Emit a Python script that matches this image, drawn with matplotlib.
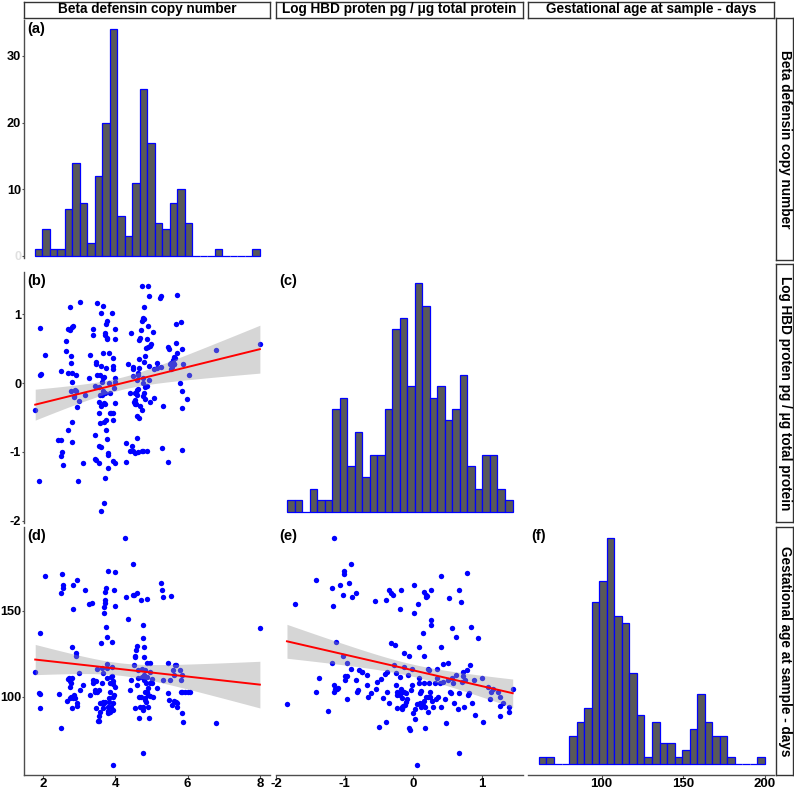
import numpy as np
import matplotlib
matplotlib.use("Agg")
import matplotlib.pyplot as plt

plt.rcParams['font.family'] = ['Liberation Sans', 'DejaVu Sans']
plt.rcParams['font.weight'] = 'bold'
plt.rcParams['axes.unicode_minus'] = False

# ---------------- data ----------------
var_names = ["Beta defensin copy number",
             "Log HBD proten pg / \u03bcg total protein",
             "Gestational age at sample - days"]
panel_tags = ["(a)", "(b)", "(c)", "(d)", "(e)", "(f)"]

hist_a_counts = [1, 4, 1, 1, 7, 14, 8, 2, 12, 20, 34, 6, 3, 11, 25, 17, 5, 4, 8, 10,
                 5, 0, 0, 0, 1, 0, 0, 0, 0, 1]
hist_a_range = (1.78, 7.99)
hist_c_counts = [1, 1, 0, 2, 1, 1, 9, 10, 4, 7, 3, 5, 5, 9, 16, 17, 11, 20, 18, 10,
                 11, 8, 9, 12, 4, 2, 5, 5, 2, 1]
hist_c_range = (-1.835, 1.447)
hist_f_counts = [1, 1, 0, 0, 4, 6, 8, 23, 26, 32, 21, 20, 13, 7, 1, 6, 3, 3, 1, 2,
                 5, 10, 6, 4, 4, 1, 0, 0, 0, 1]
hist_f_range = (61.7, 200.0)

# (b) copy number vs log HBD
b_points = [
    (1.79, -0.39), (1.89, -1.42), (1.91, 0.80), (1.91, 0.11), (1.94, 0.13), (2.06, 0.40),
    (2.42, -0.83), (2.50, -0.83), (2.51, 0.17), (2.51, -1.06), (2.54, -1.00), (2.57, -1.19),
    (2.63, 0.47), (2.63, 0.61), (2.71, 0.79), (2.74, 1.10), (2.75, 0.77), (2.78, 0.39),
    (2.80, 0.81), (2.83, 0.82), (2.77, 0.29), (2.71, 0.14), (2.80, 0.15), (2.82, 0.02),
    (2.85, -0.19), (2.87, -0.20), (2.92, 0.11), (2.93, -0.12), (2.94, -0.35), (2.99, -0.26),
    (3.03, 1.17), (2.96, -1.42), (2.71, -0.68), (2.80, -0.56), (2.82, -0.85), (2.79, -0.12),
    (2.89, -0.10),
    (3.11, -1.16), (3.17, -0.18), (3.29, 0.08), (3.31, 0.40),
    (3.40, 0.79), (3.40, 0.70), (3.44, -0.05), (3.47, 0.31), (3.48, 0.28), (3.49, 0.11),
    (3.51, 1.16), (3.55, -0.06), (3.58, 0.11), (3.61, 1.01), (3.65, 1.12), (3.63, -0.17),
    (3.58, -0.18), (3.55, -0.43), (3.61, -0.34), (3.60, -0.93), (3.55, -0.28), (3.45, -0.75),
    (3.45, -1.10), (3.47, -1.12), (3.55, -0.91), (3.56, -1.16), (3.58, -0.58),
    (3.62, 0.25), (3.64, 0.01), (3.65, -0.12), (3.66, 0.43), (3.67, 0.07), (3.68, -0.29),
    (3.69, -0.57), (3.69, 0.09), (3.71, 0.69), (3.72, -0.30), (3.73, -0.15), (3.73, 0.72),
    (3.75, 0.22), (3.75, 0.86), (3.77, 0.90), (3.77, 0.66), (3.77, 0.64), (3.79, -1.02),
    (3.77, -0.81), (3.75, -0.68), (3.75, -0.53), (3.73, -1.38), (3.70, -1.74), (3.79, -1.23),
    (3.79, -1.05), (3.82, 0.00), (3.83, 0.44), (3.86, -0.14), (3.86, -0.43), (3.89, -0.44),
    (3.90, 1.01), (3.93, -0.43), (3.93, -0.54), (3.95, 0.36), (3.95, 0.25), (3.95, 0.21),
    (3.97, -0.07), (3.99, 0.07), (4.00, 0.78), (4.00, 0.01), (3.99, 0.64), (4.00, -0.29),
    (3.95, -1.13), (4.00, -1.16), (3.60, -1.85),
    (4.29, -1.14), (4.30, -0.87), (4.36, 0.27), (4.41, -0.14), (4.43, 0.72), (4.48, 0.20),
    (4.50, 0.23), (4.50, 0.10), (4.52, -0.27), (4.54, -0.30), (4.54, -0.14), (4.56, -0.24),
    (4.56, -0.29), (4.58, -0.30), (4.58, -0.15), (4.59, -0.10), (4.60, -0.18), (4.61, 0.05),
    (4.62, -0.09), (4.63, 0.11), (4.63, 0.15), (4.65, 0.22), (4.67, 0.35), (4.67, 0.63),
    (4.69, 0.65), (4.71, 0.77), (4.74, 1.40), (4.74, 0.90), (4.76, 0.00), (4.76, -0.19),
    (4.78, 0.94), (4.78, 0.07), (4.80, 1.10), (4.80, 0.93), (4.81, 0.31), (4.83, 0.39),
    (4.83, -0.06), (4.85, 0.51), (4.87, -0.05), (4.87, 0.64), (4.90, 0.83), (4.90, 1.41),
    (4.91, 0.52), (4.93, 0.05), (4.93, 0.24), (4.94, 1.26), (4.96, 0.53), (4.95, -0.27),
    (4.98, 0.56), (5.04, 0.74), (5.06, 0.21), (5.07, -0.22), (4.60, -0.48), (4.64, -1.00),
    (4.61, -0.80), (4.56, -1.02), (4.48, -0.98), (4.41, -0.99), (4.46, -0.92), (4.65, -0.51),
    (4.73, -0.98), (4.76, -0.98), (4.87, -0.98), (4.74, -0.39), (4.70, -0.33), (4.79, -0.14),
    (4.83, -0.23),
    (5.15, 0.22), (5.17, 0.29), (5.28, 0.23), (5.24, 1.24), (5.28, 1.26), (5.31, -0.34),
    (5.46, -1.15), (5.29, -0.94), (5.47, 0.52), (5.50, 0.49), (5.52, 0.27), (5.54, 0.29),
    (5.55, 0.21), (5.58, 0.23), (5.61, 0.33), (5.62, 0.38), (5.63, 0.28), (5.64, 0.28),
    (5.66, 0.36), (5.68, 0.58), (5.68, 0.85), (5.70, 1.28), (5.71, 0.43), (5.79, 0.00),
    (5.83, 0.89), (5.85, -0.11), (5.86, 0.49), (5.88, 0.28), (5.86, -0.36), (5.84, -0.97),
    (5.98, -0.23), (6.05, 0.12),
    (6.80, 0.48), (8.00, 0.57),
]

# (d) copy number vs gestational age
d_points = [
    (1.79, 114.5), (1.93, 136.8), (1.90, 102.3), (1.91, 101.6), (1.91, 93.6), (2.06, 170.2),
    (2.44, 101.7), (2.51, 81.6), (2.51, 160.1), (2.53, 171.1), (2.57, 163.0), (2.55, 164.9),
    (2.66, 97.7), (2.71, 110.1), (2.73, 110.7), (2.75, 109.3), (2.77, 107.8), (2.80, 110.7),
    (2.74, 105.8), (2.75, 99.0), (2.78, 100.0), (2.80, 129.1), (2.83, 150.8), (2.83, 164.9),
    (2.80, 93.6), (2.83, 99.0), (2.87, 100.8), (2.90, 99.0), (2.92, 125.2), (2.92, 123.8),
    (2.94, 167.8), (2.94, 94.6), (2.94, 96.5), (2.99, 114.0), (3.03, 103.9), (3.10, 106.8),
    (3.17, 162.0), (3.29, 153.7), (3.31, 101.0), (3.36, 154.7),
    (3.38, 109.7), (3.40, 107.8), (3.44, 103.9), (3.44, 102.9), (3.47, 109.1), (3.47, 93.6),
    (3.49, 102.9), (3.51, 115.9), (3.52, 85.7), (3.54, 85.9), (3.56, 88.8), (3.56, 103.9),
    (3.58, 91.3), (3.58, 96.1), (3.61, 131.0), (3.63, 116.5), (3.64, 107.8), (3.66, 113.6),
    (3.66, 97.1), (3.67, 95.5), (3.67, 93.2), (3.69, 148.8), (3.70, 152.3), (3.72, 154.3),
    (3.72, 156.2), (3.73, 161.0), (3.75, 163.0), (3.75, 140.7), (3.77, 134.9), (3.77, 118.8),
    (3.77, 116.5), (3.77, 110.7), (3.79, 173.1), (3.79, 90.3), (3.81, 91.9), (3.81, 94.2),
    (3.82, 97.1), (3.84, 99.0), (3.86, 102.9), (3.86, 107.8), (3.88, 111.6), (3.90, 117.4),
    (3.90, 132.0), (3.91, 112.0), (3.93, 109.1), (3.93, 107.2), (3.95, 92.2), (3.95, 100.0),
    (3.97, 101.0), (3.98, 162.0), (3.99, 172.3), (3.99, 152.9), (4.00, 105.8), (3.95, 60.3),
    (3.86, 91.3), (3.72, 97.1), (3.88, 94.2), (3.93, 96.1),
    (4.28, 192.1), (4.30, 157.8), (4.35, 145.0), (4.41, 103.9), (4.43, 109.7), (4.48, 177.1),
    (4.50, 159.1), (4.52, 159.1), (4.52, 118.4), (4.54, 123.3), (4.55, 93.2), (4.56, 123.8),
    (4.58, 127.1), (4.60, 106.8), (4.61, 160.1), (4.61, 129.5), (4.62, 110.7), (4.63, 115.5),
    (4.65, 87.4), (4.67, 100.0), (4.69, 94.2), (4.71, 156.2), (4.72, 99.6), (4.73, 111.6),
    (4.74, 115.9), (4.76, 94.2), (4.76, 92.2), (4.78, 141.7), (4.78, 133.9), (4.79, 129.1),
    (4.80, 123.3), (4.80, 112.6), (4.80, 109.7), (4.82, 102.9), (4.82, 98.1), (4.83, 99.0),
    (4.83, 115.5), (4.85, 107.8), (4.86, 97.1), (4.87, 102.9), (4.87, 111.6), (4.88, 119.4),
    (4.89, 156.6), (4.90, 94.2), (4.91, 101.0), (4.92, 104.8), (4.93, 87.4), (4.95, 114.5),
    (4.95, 107.8), (4.95, 119.4), (4.96, 100.6), (5.01, 107.8), (5.04, 100.0), (5.01, 110.1),
    (4.76, 67.4),
    (5.15, 104.8), (5.28, 166.3), (5.30, 162.0), (5.31, 157.8), (5.33, 109.7), (5.47, 119.8),
    (5.47, 102.3), (5.48, 98.1), (5.52, 109.7), (5.53, 158.7), (5.56, 95.2), (5.61, 115.5),
    (5.63, 97.7), (5.64, 112.6), (5.66, 118.4), (5.68, 118.4), (5.68, 97.1), (5.70, 94.2),
    (5.72, 96.1), (5.79, 115.5), (5.81, 109.7), (5.82, 102.9), (5.84, 90.3), (5.86, 112.6),
    (5.88, 85.5), (5.86, 102.9), (5.93, 102.9), (6.00, 102.9), (6.07, 102.9),
    (6.80, 84.5), (8.00, 139.7),
]

# (e) log HBD vs gestational age
e_points = [
    (-1.84, 95.7), (-1.73, 153.9), (-1.42, 168.0), (-1.42, 102.7), (-1.37, 110.7), (-1.24, 91.7),
    (-1.19, 163.0), (-1.17, 152.9), (-1.18, 119.8), (-1.16, 106.8), (-1.15, 102.7), (-1.15, 192.2),
    (-1.14, 104.5), (-1.13, 132.0), (-1.11, 104.3), (-1.09, 104.8), (-1.06, 164.9), (-1.03, 159.1),
    (-1.03, 123.8), (-1.01, 173.3), (-1.01, 171.3), (-1.00, 109.7), (-0.99, 112.0), (-0.97, 112.0),
    (-0.96, 119.8), (-0.96, 98.4), (-0.94, 166.3), (-0.91, 177.1), (-0.89, 157.8), (-0.90, 115.9),
    (-0.84, 160.1), (-0.84, 109.7), (-0.82, 102.5), (-0.80, 103.9), (-0.79, 115.5), (-0.75, 114.5),
    (-0.74, 114.5), (-0.67, 112.6), (-0.67, 106.8), (-0.66, 99.6), (-0.62, 102.3), (-0.55, 155.4),
    (-0.54, 104.7), (-0.53, 108.7), (-0.50, 82.6), (-0.47, 110.1), (-0.44, 99.0), (-0.41, 113.2),
    (-0.40, 156.2), (-0.40, 85.5), (-0.38, 102.9), (-0.38, 114.5), (-0.36, 96.5), (-0.35, 162.0),
    (-0.33, 131.0), (-0.32, 160.1), (-0.29, 159.1), (-0.28, 118.4), (-0.27, 130.0), (-0.25, 106.8),
    (-0.25, 113.6), (-0.24, 102.9), (-0.23, 101.0), (-0.22, 102.3), (-0.24, 93.6), (-0.20, 101.0),
    (-0.19, 151.0), (-0.19, 111.6), (-0.18, 104.7), (-0.18, 162.0), (-0.17, 102.9), (-0.17, 99.0),
    (-0.16, 93.8), (-0.16, 92.6), (-0.15, 94.6), (-0.14, 125.6), (-0.14, 117.4), (-0.13, 102.9),
    (-0.12, 95.2), (-0.11, 97.1), (-0.10, 101.9), (-0.09, 98.4), (-0.07, 112.6), (-0.06, 123.6),
    (-0.06, 81.6), (-0.05, 80.6), (-0.03, 103.9), (-0.02, 106.8), (-0.02, 115.9), (0.00, 90.7),
    (0.01, 164.9), (0.01, 148.8), (0.02, 92.6), (0.03, 87.0), (0.05, 95.7), (0.07, 153.9),
    (0.06, 60.3), (0.08, 110.7), (0.09, 108.1), (0.09, 129.1), (0.10, 96.5), (0.10, 102.3),
    (0.11, 93.8), (0.12, 103.3), (0.14, 95.2), (0.15, 123.8), (0.14, 136.8), (0.16, 97.7),
    (0.16, 108.1), (0.16, 161.0), (0.17, 93.8), (0.17, 81.6), (0.18, 99.6), (0.18, 159.1),
    (0.19, 158.1), (0.20, 158.5), (0.21, 115.9), (0.22, 91.3), (0.22, 100.0), (0.23, 108.1),
    (0.23, 115.5), (0.24, 102.9), (0.25, 100.0), (0.26, 162.0), (0.26, 144.6), (0.26, 141.7),
    (0.28, 97.7), (0.29, 93.8), (0.32, 108.1), (0.33, 98.4), (0.34, 115.9), (0.35, 110.7),
    (0.36, 100.0), (0.39, 107.8), (0.40, 170.2), (0.40, 129.1), (0.40, 93.8), (0.43, 119.0),
    (0.44, 108.7), (0.46, 98.4), (0.48, 84.5), (0.50, 109.7), (0.51, 119.8), (0.52, 157.2),
    (0.54, 102.9), (0.55, 101.9), (0.56, 139.7), (0.57, 110.7), (0.58, 107.8), (0.59, 96.5),
    (0.63, 134.9), (0.63, 112.6), (0.65, 92.6), (0.66, 67.4), (0.66, 162.0), (0.67, 101.9),
    (0.69, 155.0), (0.71, 108.7), (0.72, 112.0), (0.73, 114.5), (0.74, 93.8), (0.76, 109.7),
    (0.78, 172.1), (0.78, 115.5), (0.80, 101.0), (0.81, 101.9), (0.83, 118.4), (0.84, 140.7),
    (0.85, 96.5), (0.88, 109.7), (0.90, 89.3), (0.95, 133.9), (1.00, 110.7), (1.02, 85.5),
    (1.09, 105.8), (1.12, 98.4), (1.14, 103.0), (1.17, 104.3), (1.23, 102.9), (1.26, 99.6),
    (1.26, 94.8), (1.27, 88.8), (1.31, 96.5), (1.40, 93.8), (1.40, 91.3), (1.45, 104.7),
]

x_ticks = [[2, 4, 6, 8], [-2, -1, 0, 1], [100, 150, 200]]
y_ticks = [[0, 10, 20, 30], [-2, -1, 0, 1], [100, 150]]

# ---------------- layout ----------------
W, H = 794, 792
fig = plt.figure(figsize=(W / 100, H / 100), dpi=100)


def px_axes(x0, y0, x1, y1):
    return fig.add_axes([x0 / W, 1 - y1 / H, (x1 - x0) / W, (y1 - y0) / H])


col_px = [(24, 270), (276, 523), (528, 774)]
row_px = [(20, 258), (272, 523), (527, 775)]
xlims = [(1.48, 8.28), (-2.0, 1.60), (55, 205.5)]
ylims = [(-0.3, 35.4), (-2.03, 1.61), (54.5, 198.7)]

AX_COL = "#4d4d4d"
FILL = "#595959"
BLUE = "#0000FF"
TICK_FS = 9.5


def style(ax, r, c, show_y, show_x, ylim=None):
    ax.set_xlim(*xlims[c])
    ax.set_ylim(*(ylim if ylim is not None else ylims[r]))
    for s in ax.spines.values():
        s.set_visible(False)
    ax.patch.set_visible(False)
    ax.tick_params(which="both", direction="out", length=1.6, width=0.8,
                   color=AX_COL, labelsize=TICK_FS, pad=0.4, labelcolor="black")
    if show_y:
        ax.spines["left"].set_visible(True)
        ax.spines["left"].set_color(AX_COL)
        ax.spines["left"].set_linewidth(1.0)
        ax.set_yticks(y_ticks[r])
        ax.tick_params(axis="y", labelsize=9.2)
    else:
        ax.set_yticks([])
    if show_x:
        ax.spines["bottom"].set_visible(True)
        ax.spines["bottom"].set_color(AX_COL)
        ax.spines["bottom"].set_linewidth(1.0)
        ax.set_xticks(x_ticks[c])
        ax.tick_params(axis="x", length=2, pad=0.3)
    else:
        ax.set_xticks([])


def tag(ax, s):
    ax.annotate(s, xy=(0, 1), xycoords="axes fraction", xytext=(3, -2),
                textcoords="offset pixels", ha="left", va="top",
                fontsize=10.5, fontweight="bold")


def hist(ax, counts, rng):
    counts = np.asarray(counts, dtype=float)
    edges = np.linspace(rng[0], rng[1], len(counts) + 1)
    ax.bar(edges[:-1], counts, width=np.diff(edges), align="edge",
           color=FILL, edgecolor=BLUE, linewidth=0.9)


def lm_band(x, y, n=100):
    x = np.asarray(x); y = np.asarray(y)
    b1, b0 = np.polyfit(x, y, 1)
    xs = np.linspace(x.min(), x.max(), n)
    yh = b0 + b1 * xs
    res = y - (b0 + b1 * x)
    s = np.sqrt(np.sum(res ** 2) / (len(x) - 2))
    sxx = np.sum((x - x.mean()) ** 2)
    se = s * np.sqrt(1 / len(x) + (xs - x.mean()) ** 2 / sxx)
    t = 1.972
    return xs, yh, yh - t * se, yh + t * se


def scatter(ax, pts):
    x = np.array([p[0] for p in pts]); y = np.array([p[1] for p in pts])
    ax.scatter(x, y, s=15, color=BLUE, linewidths=0, zorder=2)
    xs, yh, lo, hi = lm_band(x, y)
    ax.fill_between(xs, lo, hi, color="#999999", alpha=0.4, linewidth=0, zorder=3)
    ax.plot(xs, yh, color="#FF0000", linewidth=1.4, zorder=4)


# (a)
ax = px_axes(col_px[0][0], row_px[0][0], col_px[0][1], row_px[0][1])
style(ax, 0, 0, True, False)
hist(ax, hist_a_counts, hist_a_range)
ax.get_yticklabels()[0].set_color("#e0e0e0")
tag(ax, panel_tags[0])

# (b)
ax = px_axes(col_px[0][0], row_px[1][0], col_px[0][1], row_px[1][1])
style(ax, 1, 0, True, False)
scatter(ax, b_points)
tag(ax, panel_tags[1])

# (c)
ax = px_axes(col_px[1][0], row_px[1][0], col_px[1][1], row_px[1][1])
style(ax, 1, 1, False, False, ylim=(-1, 21))
hist(ax, hist_c_counts, hist_c_range)
tag(ax, panel_tags[2])

# (d)
ax = px_axes(col_px[0][0], row_px[2][0], col_px[0][1], row_px[2][1])
style(ax, 2, 0, True, True)
scatter(ax, d_points)
tag(ax, panel_tags[3])

# (e)
ax = px_axes(col_px[1][0], row_px[2][0], col_px[1][1], row_px[2][1])
style(ax, 2, 1, False, True)
scatter(ax, e_points)
tag(ax, panel_tags[4])

# (f)
ax = px_axes(col_px[2][0], row_px[2][0], col_px[2][1], row_px[2][1])
style(ax, 2, 2, False, True, ylim=(-1.5, 33.6))
hist(ax, hist_f_counts, hist_f_range)
tag(ax, panel_tags[5])


# strips
def strip(x0, y0, x1, y1, text, rot):
    sa = px_axes(x0, y0, x1, y1)
    sa.set_xticks([]); sa.set_yticks([])
    sa.set_facecolor("white")
    for s in sa.spines.values():
        s.set_color("#333333"); s.set_linewidth(1.0)
    sa.text(0.5, 0.5, text, transform=sa.transAxes, ha="center", va="center",
            rotation=rot, fontsize=9.8, fontweight="bold", color="black")


for c in range(3):
    strip(col_px[c][0], 1.5, col_px[c][1], 17.5, var_names[c], 0)
right_rows = [(18, 260), (264, 522), (527, 775)]
for r in range(3):
    strip(776, right_rows[r][0], 793, right_rows[r][1], var_names[r], 270)

fig.savefig("out.png", dpi=100)
